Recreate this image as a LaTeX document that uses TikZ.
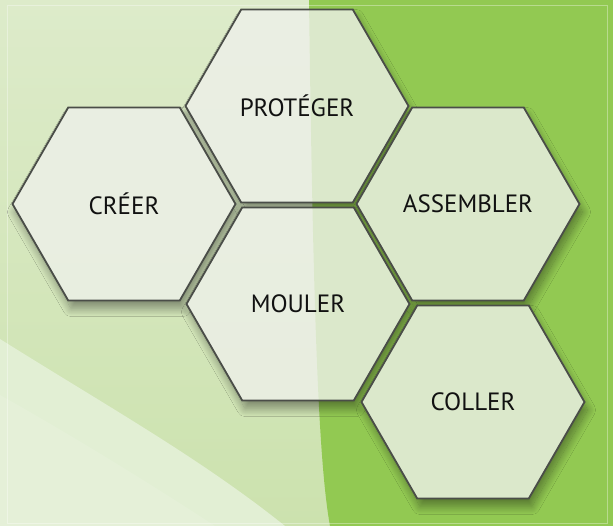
\documentclass[tikz,border=0pt]{standalone}
\usepackage{fontspec}
\setmainfont{PT Sans}
\usetikzlibrary{shapes.geometric,shadows.blur}
\definecolor{bgTop}{HTML}{DDEBCA}
\definecolor{bgBot}{HTML}{CCE2AE}
\definecolor{bgPale}{HTML}{E2EFD4}
\definecolor{bgPaler}{HTML}{E7F2DC}
\definecolor{bgGreen}{HTML}{92C952}
\definecolor{hexFill}{HTML}{EEF0EA}
\definecolor{hexBorder}{HTML}{4A4D48}
\definecolor{txt}{HTML}{111111}
\newcommand\bgpaint{%
  \shade[top color=bgTop, bottom color=bgBot] (0,0) rectangle (613,526);
  \fill[bgPale] (0,339) .. controls (110,408) and (200,458) .. (285,526) -- (0,526) -- cycle;
  \fill[bgPaler, opacity=0.6] (0,395) .. controls (80,440) and (160,490) .. (215,526) -- (0,526) -- cycle;
  \fill[bgGreen] (309,0) .. controls (313,300) and (318,460) .. (330,526) -- (613,526) -- (613,0) -- cycle;}
\newcommand\hexshadow[2]{%
  \path[blur shadow={shadow xshift=3pt, shadow yshift=-8pt, shadow blur radius=8pt, shadow blur steps=20, shadow opacity=40}]
    ({#1+111.5},{#2}) -- ({#1+55.75},{#2-96.56}) -- ({#1-55.75},{#2-96.56}) -- ({#1-111.5},{#2}) -- ({#1-55.75},{#2+96.56}) -- ({#1+55.75},{#2+96.56}) -- cycle;}
\newcommand\hexclipbg[2]{%
  \begin{scope}
    \clip ({#1+111.5},{#2}) -- ({#1+55.75},{#2-96.56}) -- ({#1-55.75},{#2-96.56}) -- ({#1-111.5},{#2}) -- ({#1-55.75},{#2+96.56}) -- ({#1+55.75},{#2+96.56}) -- cycle;
    \bgpaint
  \end{scope}}
\begin{document}
\begin{tikzpicture}[x=1pt,y=-1pt,
  hexnode/.style={regular polygon, regular polygon sides=6, minimum size=223pt,
    inner sep=0pt, draw=hexBorder, line width=1.8pt, fill=hexFill,
    fill opacity=0.8, draw opacity=1, text opacity=1, text=txt,
    font=\fontsize{25}{30}\selectfont}]
  \useasboundingbox (0,0) rectangle (613,526);
  % background
  \bgpaint
  \draw[white, opacity=0.35, line width=0.6pt] (7,5) rectangle (607,523);
  % shadows
  \hexshadow{124}{204}
  \hexshadow{297}{106}
  \hexshadow{298}{304}
  \hexshadow{468}{204}
  \hexshadow{473}{402}
  % clean background inside hexagons
  \hexclipbg{124}{204}
  \hexclipbg{297}{106}
  \hexclipbg{298}{304}
  \hexclipbg{468}{204}
  \hexclipbg{473}{402}
  % hexagons
  \node[hexnode] (creer) at (124,204) {CRÉER};
  \node[hexnode] (proteger) at (297,106) {PROTÉGER};
  \node[hexnode] (mouler) at (298,304) {MOULER};
  \node[hexnode] (assembler) at (468,204) {ASSEMBLER};
  \node[hexnode] (coller) at (473,402) {COLLER};
\end{tikzpicture}
\end{document}
